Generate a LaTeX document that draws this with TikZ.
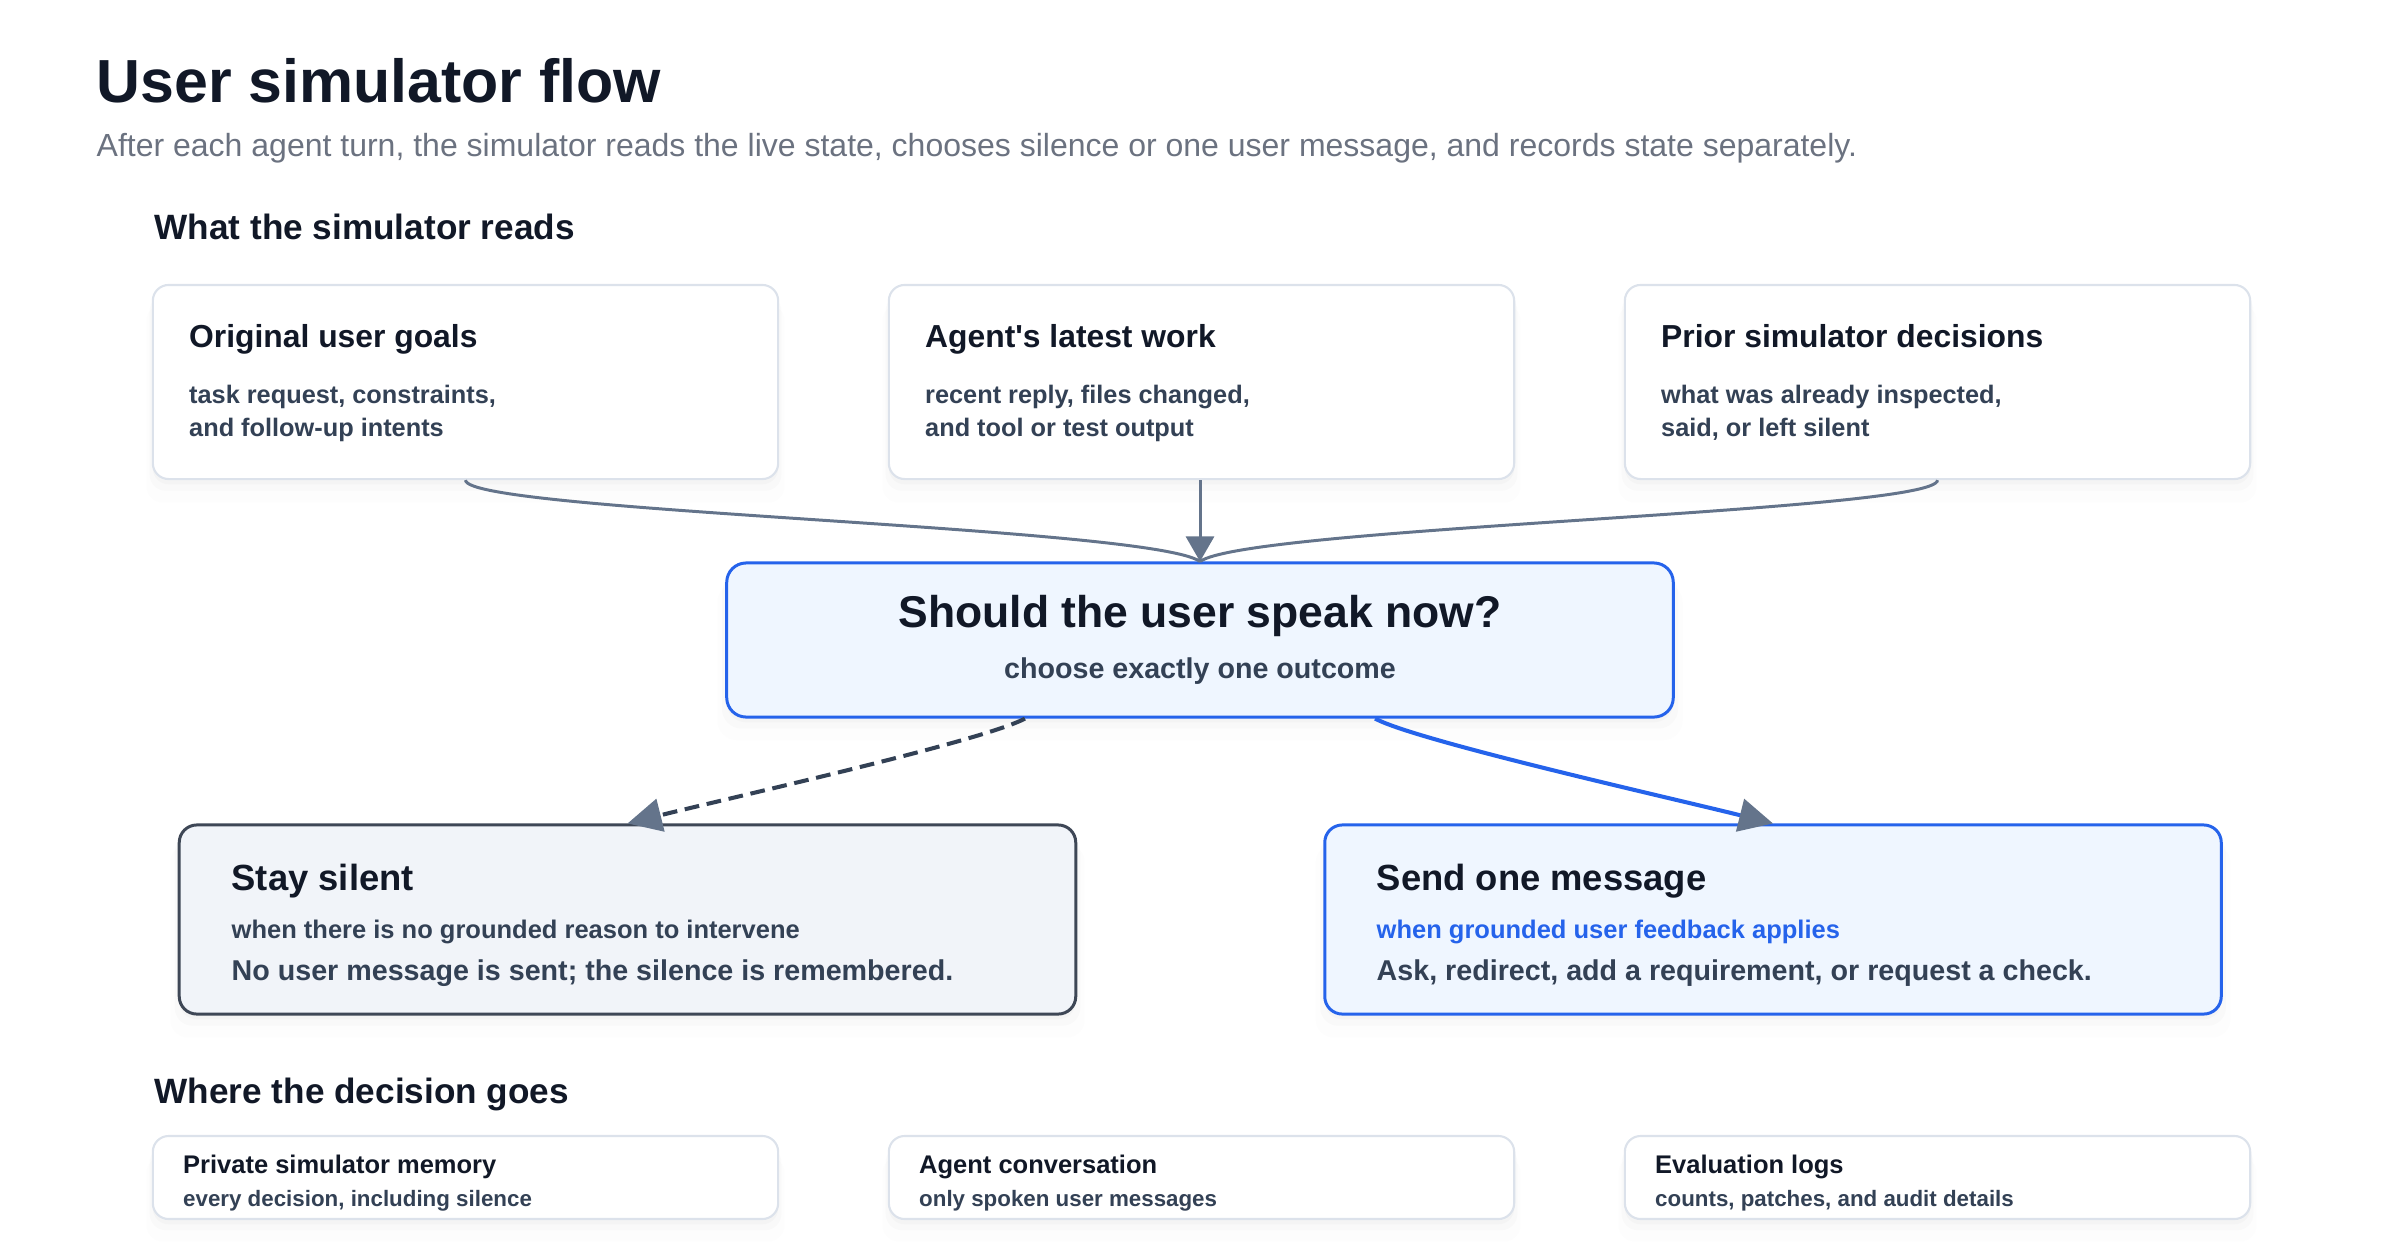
\documentclass[tikz,border=0pt]{standalone}
\usepackage{fontspec}
\setmainfont{Liberation Sans}[Ligatures=TeXOff]
\usetikzlibrary{arrows.meta,shadows}
\definecolor{ink}{HTML}{111827}
\definecolor{muted}{HTML}{6B7280}
\definecolor{slatetext}{HTML}{334155}
\definecolor{cardline}{HTML}{DCE2EB}
\definecolor{accent}{HTML}{2563EB}
\definecolor{accentfill}{HTML}{EFF6FF}
\definecolor{quietfill}{HTML}{F1F4F9}
\definecolor{quietline}{HTML}{3E4756}
\definecolor{tipgray}{HTML}{64748B}
\begin{document}
\begin{tikzpicture}[x=0.01cm,y=-0.01cm,
    soft/.style={drop shadow={shadow xshift=0pt,shadow yshift=-6pt,opacity=.02,shadow scale=1.02},
                 drop shadow={shadow xshift=0pt,shadow yshift=-3pt,opacity=.03,shadow scale=1.01},
                 drop shadow={shadow xshift=0pt,shadow yshift=-1.5pt,opacity=.035}},
    card/.style={draw=cardline,line width=0.6pt,fill=white,rounded corners=4.5pt,soft},
    readbox/.style={card,minimum width=6.25cm,minimum height=1.94cm},
    sinkbox/.style={card,minimum width=6.25cm,minimum height=0.83cm},
    askbox/.style={draw=accent,line width=0.85pt,fill=accentfill,rounded corners=5.5pt,soft,
                   minimum width=9.46cm,minimum height=1.54cm},
    outbox/.style={line width=0.85pt,rounded corners=5pt,soft,minimum width=8.96cm,minimum height=1.89cm},
    txt/.style={inner sep=0pt,anchor=base west},
    feed/.style={line width=0.85pt,tipgray},
    flow/.style={line width=0.85pt,-{Triangle[length=0.25cm,width=0.28cm,color=tipgray]}},
    pick/.style={line width=1.15pt,-{Triangle[length=0.34cm,width=0.33cm,color=tipgray]}}
  ]
    \useasboundingbox (0,0) rectangle (2400,1248);

    \node[txt,text=ink,font=\fontsize{17.3}{20}\selectfont\bfseries] (head) at (96,102) {User simulator flow};
    \node[txt,text=muted,font=\fontsize{9.1}{11}\selectfont] (lede) at (96,156)
        {After each agent turn, the simulator reads the live state, chooses silence or one user message, and records state separately.};
    \node[txt,text=ink,font=\fontsize{10}{12}\selectfont\bfseries] (reads) at (154,239) {What the simulator reads};
    \node[txt,text=ink,font=\fontsize{10}{12}\selectfont\bfseries] (goes) at (154,1103) {Where the decision goes};

    \foreach \n/\x/\t/\a/\b in {goals/465.5/Original user goals/{task request, constraints,}/and follow-up intents,
                                work/1201.5/Agent's latest work/{recent reply, files changed,}/and tool or test output,
                                prior/1937.5/Prior simulator decisions/{what was already inspected,}/{said, or left silent}} {
        \node[readbox] (\n) at (\x,382) {};
        \node[txt,text=ink,font=\fontsize{9.05}{11}\selectfont\bfseries] (\n-t) at (\x-277,347) {\t};
        \node[txt,text=slatetext,font=\fontsize{7.2}{9}\selectfont\bfseries] (\n-a) at (\x-277,403) {\a};
        \node[txt,text=slatetext,font=\fontsize{7.2}{9}\selectfont\bfseries] (\n-b) at (\x-277,436) {\b};
    }

    \node[askbox] (ask) at (1200,640) {};
    \node[inner sep=0pt,anchor=base,text=ink,font=\fontsize{12.65}{15}\selectfont\bfseries] (ask-t) at (1200,627) {Should the user speak now?};
    \node[inner sep=0pt,anchor=base,text=slatetext,font=\fontsize{8.15}{10}\selectfont\bfseries] (ask-s) at (1200,678) {choose exactly one outcome};

    \node[outbox,draw=quietline,fill=quietfill] (silent) at (627.5,919.5) {};
    \node[txt,text=ink,font=\fontsize{10.35}{12}\selectfont\bfseries] (silent-t) at (231,890) {Stay silent};
    \node[txt,text=slatetext,font=\fontsize{7.25}{9}\selectfont\bfseries] (silent-w) at (231,938) {when there is no grounded reason to intervene};
    \node[txt,text=slatetext,font=\fontsize{8.15}{10}\selectfont\bfseries] (silent-d) at (231,980) {No user message is sent; the silence is remembered.};

    \node[outbox,draw=accent,fill=accentfill] (send) at (1773,919.5) {};
    \node[txt,text=ink,font=\fontsize{10.35}{12}\selectfont\bfseries] (send-t) at (1376,890) {Send one message};
    \node[txt,text=accent,font=\fontsize{7.25}{9}\selectfont\bfseries] (send-w) at (1376,938) {when grounded user feedback applies};
    \node[txt,text=slatetext,font=\fontsize{8.15}{10}\selectfont\bfseries] (send-d) at (1376,980) {Ask, redirect, add a requirement, or request a check.};

    \foreach \n/\x/\t/\d in {memory/465.5/Private simulator memory/{every decision, including silence},
                             convo/1201.5/Agent conversation/only spoken user messages,
                             logs/1937.5/Evaluation logs/{counts, patches, and audit details}} {
        \node[sinkbox] (\n) at (\x,1177.5) {};
        \node[txt,text=ink,font=\fontsize{7.25}{9}\selectfont\bfseries] (\n-t) at (\x-283,1173) {\t};
        \node[txt,text=slatetext,font=\fontsize{6.35}{8}\selectfont\bfseries] (\n-d) at (\x-283,1206) {\d};
    }

    \draw[feed] (goals.south) .. controls +(0,32) and +(-50,-35) .. (ask.north);
    \draw[feed] (prior.south) .. controls +(0,32) and +(50,-35) .. (ask.north);
    \draw[flow,tipgray] (work.south -| ask.north) -- (ask.north);
    \draw[pick,slatetext,dash pattern=on 4.2pt off 2.2pt] ([xshift=-1.75cm]ask.south) .. controls +(-40,22) and +(100,-25) .. (silent.north);
    \draw[pick,accent] ([xshift=1.75cm]ask.south) .. controls +(40,22) and +(-100,-25) .. (send.north);
\end{tikzpicture}
\end{document}
